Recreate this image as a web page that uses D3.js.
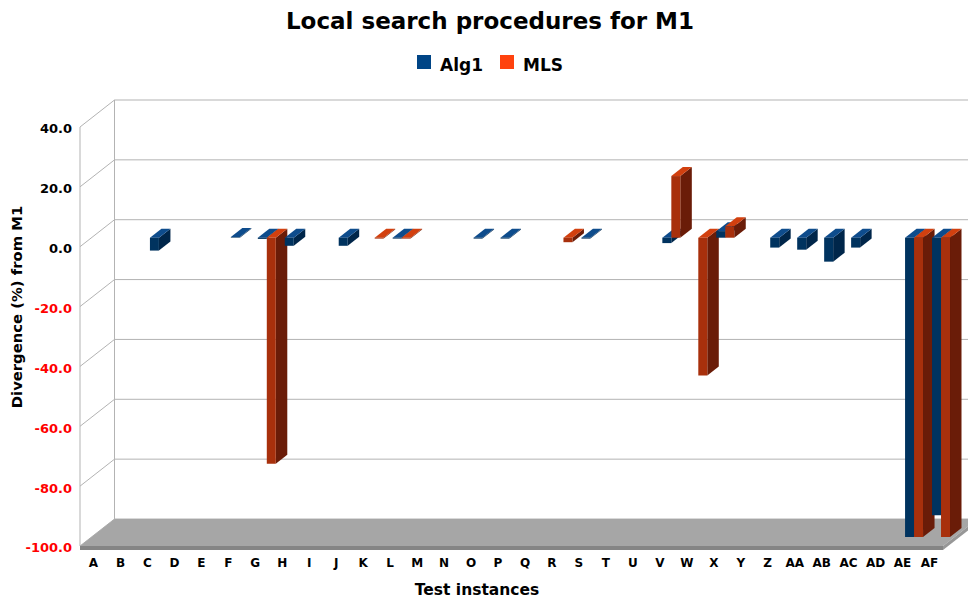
<!DOCTYPE html>
<html>
<head>
<meta charset="utf-8">
<script src="https://cdn.jsdelivr.net/npm/d3@7"></script>
<style>
  html, body { margin: 0; padding: 0; background: #fff; }
  svg { display: block; }
  text { font-family: "DejaVu Sans", sans-serif; font-weight: bold; }
</style>
</head>
<body>
<div id="chart"></div>
<script>
// Test instances and divergence (%) of each local search procedure from M1
const categories = ["A","B","C","D","E","F","G","H","I","J","K","L","M","N","O","P",
  "Q","R","S","T","U","V","W","X","Y","Z","AA","AB","AC","AD","AE","AF"];
const alg1 = [null, null, -4.3, null, null, 0.2, -0.4, -2.7, null, -2.7, null, -0.3,
  null, null, -0.3, -0.3, null, null, -0.3, null, null, -1.8, null, 2.2,
  null, -3.3, -4, -8, -3.3, null, -100, -92.7];
const mls = [null, null, null, null, null, null, -75.5, null, null, null, -0.3, -0.3,
  null, null, null, null, null, -1.5, null, null, null, 20.6, -46, 3.8,
  null, null, null, null, null, null, -100, -100];
const yTicks = [40, 20, 0, -20, -40, -60, -80, -100];
const seriesNames = ["Alg1", "MLS"];

const width = 968, height = 599;
const svg = d3.select("#chart").append("svg")
  .attr("width", width).attr("height", height);

// oblique 3D box: front plane plus a receding depth offset
const depthX = 34.5, depthY = -27;
const x = d3.scaleBand().domain(categories).range([80, 943]);
const y = d3.scaleLinear().domain([-100, 40]).range([546, 127]).clamp(true);
const proj = (px, v, d) => [px + d * depthX, y(v) + d * depthY];

const gridColor = "#b3b3b3";
const palette = [
  { base: "#004586", top: "#0e4c8c", front: "#00335f", side: "#00264a" },
  { base: "#ff420e", top: "#d2400f", front: "#a8300c", side: "#6a1c08" }
];

const walls = svg.append("g").attr("fill", "none").attr("stroke", gridColor).attr("stroke-width", 1);
// back wall grid lines and side wall diagonals
yTicks.forEach(v => {
  const [bx, by] = proj(80, v, 1);
  walls.append("line").attr("x1", bx).attr("y1", by).attr("x2", width + 20).attr("y2", by);
  const [fx, fy] = proj(80, v, 0);
  walls.append("line").attr("x1", fx).attr("y1", fy).attr("x2", bx).attr("y2", by);
});
{
  const [ax, ay] = proj(80, 40, 0), [bx, by] = proj(80, -100, 0);
  walls.append("line").attr("x1", ax).attr("y1", ay).attr("x2", bx).attr("y2", by);
  const [cx, cy] = proj(80, 40, 1), [dx, dy] = proj(80, -100, 1);
  walls.append("line").attr("x1", cx).attr("y1", cy).attr("x2", dx).attr("y2", dy);
}

// floor slab at the axis minimum
const floorG = svg.append("g");
const xl = 80, xr = 943, slab = 4;
const fl = proj(xl, -100, 0), fr = proj(xr, -100, 0), br = proj(xr, -100, 1), bl = proj(xl, -100, 1);
floorG.append("polygon")
  .attr("points", [fl, fr, br, bl].map(p => p.join(",")).join(" "))
  .attr("fill", "#a6a6a6");
floorG.append("polygon")
  .attr("points", [fl, fr, [fr[0], fr[1] + slab], [fl[0], fl[1] + slab]].map(p => p.join(",")).join(" "))
  .attr("fill", "#858585");
floorG.append("polygon")
  .attr("points", [fr, br, [br[0], br[1] + slab], [fr[0], fr[1] + slab]].map(p => p.join(",")).join(" "))
  .attr("fill", "#979797");

// bars: two series per category, placed in the middle third of the depth
const bars = [];
categories.forEach((c, ci) => {
  [alg1, mls].forEach((arr, si) => {
    const v = arr[ci];
    if (v === null) return;
    bars.push({ c, si, v });
  });
});
const bw = x.bandwidth() / 3;
const d0 = 1 / 3, d1 = 2 / 3;
const pts = a => a.map(p => p.join(",")).join(" ");

const barG = svg.append("g").selectAll("g").data(bars).join("g");
barG.each(function(b) {
  const g = d3.select(this);
  const cx = x(b.c) + x.bandwidth() / 2;
  const L = cx - bw + b.si * bw, R = L + bw;
  const top = Math.max(b.v, 0), bot = Math.min(b.v, 0);
  const col = palette[b.si];
  g.append("polygon").attr("fill", col.side)
    .attr("points", pts([proj(R, top, d0), proj(R, top, d1), proj(R, bot, d1), proj(R, bot, d0)]));
  g.append("polygon").attr("fill", col.top)
    .attr("points", pts([proj(L, top, d0), proj(R, top, d0), proj(R, top, d1), proj(L, top, d1)]));
  g.append("polygon").attr("fill", col.front)
    .attr("points", pts([proj(L, top, d0), proj(R, top, d0), proj(R, bot, d0), proj(L, bot, d0)]));
});

// y axis labels (negative values in red)
svg.append("g").selectAll("text").data(yTicks).join("text")
  .attr("x", 72).attr("y", d => y(d) + 6.4)
  .attr("text-anchor", "end")
  .attr("font-size", 13)
  .attr("fill", d => d < 0 ? "#ff0000" : "#000")
  .text(d => d.toFixed(1));

// x axis labels
svg.append("g").selectAll("text").data(categories).join("text")
  .attr("x", d => x(d) + x.bandwidth() / 2).attr("y", 567)
  .attr("text-anchor", "middle")
  .attr("font-size", 12)
  .attr("fill", "#000")
  .text(d => d);

// titles
svg.append("text").attr("x", 490).attr("y", 29).attr("text-anchor", "middle")
  .attr("font-size", 23).text("Local search procedures for M1");
svg.append("text").attr("x", 477).attr("y", 595).attr("text-anchor", "middle")
  .attr("font-size", 15.5).text("Test instances");
svg.append("text").attr("transform", "translate(22,307) rotate(-90)")
  .attr("text-anchor", "middle").attr("font-size", 14.8).text("Divergence (%) from M1");

// legend
const legend = svg.append("g");
const legendX = [417, 500];
seriesNames.forEach((name, i) => {
  legend.append("rect").attr("x", legendX[i]).attr("y", 55).attr("width", 14).attr("height", 14)
    .attr("fill", palette[i].base);
  legend.append("text").attr("x", legendX[i] + 23).attr("y", 71)
    .attr("font-size", 17).text(name);
});
</script>
</body>
</html>
